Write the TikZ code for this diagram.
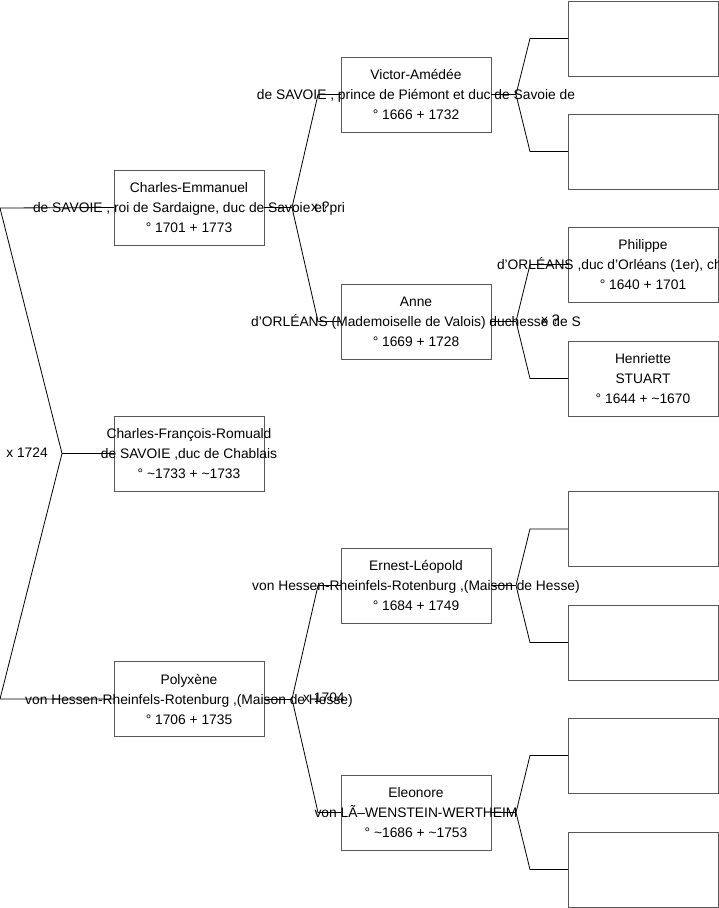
\documentclass[tikz,border=0pt]{standalone}
\usepackage{fontspec}
\setmainfont{Liberation Sans}
\begin{document}
\begin{tikzpicture}[x=1pt,y=-1pt,
  box/.style={draw=black!65, line width=1pt, minimum width=150pt, minimum height=75pt, inner sep=0pt, outer sep=0pt},
  txt/.style={font=\fontsize{13.8}{20}\selectfont, align=center, inner sep=0pt},
  lbl/.style={font=\fontsize{13.8}{16}\selectfont, inner sep=0pt},
  lk/.style={draw=black, line width=0.8pt}]
\useasboundingbox (0,0) rectangle (719,908);
% column 1
\node[box] (ce) at (189,207.5) {};
\node[box] (cf) at (189,453.5) {};
\node[box] (po) at (189,699) {};
% column 2
\node[box] (va) at (416,94.5) {};
\node[box] (an) at (416,321.5) {};
\node[box] (el) at (416,585.5) {};
\node[box] (eo) at (416,812.5) {};
% column 3
\node[box] (g1) at (643,38.5) {};
\node[box] (g2) at (643,151.5) {};
\node[box] (ph) at (643,264.5) {};
\node[box] (he) at (643,378.5) {};
\node[box] (g5) at (643,529) {};
\node[box] (g6) at (643,642.5) {};
\node[box] (g7) at (643,755.5) {};
\node[box] (g8) at (643,869.5) {};
% texts
\node[txt] at (ce) {Charles-Emmanuel\\de SAVOIE , roi de Sardaigne, duc de Savoie et pri\\° 1701 + 1773};
\node[txt] at (cf) {Charles-François-Romuald\\de SAVOIE ,duc de Chablais\\° \textasciitilde1733 + \textasciitilde1733};
\node[txt] at (po) {Polyxène\\von Hessen-Rheinfels-Rotenburg ,(Maison de Hesse)\\° 1706 + 1735};
\node[txt] at (va) {Victor-Amédée\\de SAVOIE , prince de Piémont et duc de Savoie de\\° 1666 + 1732};
\node[txt] at (an) {Anne\\d'ORLÉANS  (Mademoiselle de Valois) duchesse de S\\° 1669 + 1728};
\node[txt] at (el) {Ernest-Léopold\\von Hessen-Rheinfels-Rotenburg ,(Maison de Hesse)\\° 1684 + 1749};
\node[txt] at (eo) {Eleonore\\von LÃ–WENSTEIN-WERTHEIM\\° \textasciitilde1686 + \textasciitilde1753};
\node[txt] at (ph) {Philippe\\\makebox[292pt][l]{d'ORLÉANS ,duc d'Orléans (1er), che}\\° 1640 + 1701};
\node[txt] at (he) {Henriette\\STUART\\° 1644 + \textasciitilde1670};
% marriage labels
\node[lbl] (m0) at (27,453) {x 1724};
\node[lbl, anchor=west] (m1) at (311,207) {x ?};
\node[lbl, anchor=west] (m2) at (541,320) {x ?};
\node[lbl, anchor=west] (m3) at (303,698) {x 1704};
% coordinates
\coordinate (a0) at (0,208);
\coordinate (a1) at (62,453.5);
\coordinate (a2) at (0,699);
\coordinate (b1) at (292,207.5);
\coordinate (b1t) at (318,94.5);
\coordinate (b1b) at (318,321.5);
\coordinate (b2) at (292,699);
\coordinate (b2t) at (318,585.5);
\coordinate (b2b) at (318,812.5);
\coordinate (c1) at (516,94.5);
\coordinate (c1t) at (530,38.5);
\coordinate (c1b) at (530,151.5);
\coordinate (c2) at (516,321.5);
\coordinate (c2t) at (530,264.5);
\coordinate (c2b) at (530,378.5);
\coordinate (c3) at (516,585.5);
\coordinate (c3t) at (530,529);
\coordinate (c3b) at (530,642.5);
\coordinate (c4) at (516,812.5);
\coordinate (c4t) at (530,755.5);
\coordinate (c4b) at (530,869.5);
% connectors
\draw[lk] (ce.west) -- (a0) -- (a1) -- (a2) -- (po.west);
\draw[lk] (a1) -- (cf.west);
\draw[lk] (ce.east) -- (b1); \draw[lk] (va.west) -- (b1t) -- (b1) -- (b1b) -- (an.west);
\draw[lk] (po.east) -- (b2); \draw[lk] (el.west) -- (b2t) -- (b2) -- (b2b) -- (eo.west);
\draw[lk] (va.east) -- (c1); \draw[lk] (g1.west) -- (c1t) -- (c1) -- (c1b) -- (g2.west);
\draw[lk] (an.east) -- (c2); \draw[lk] (ph.west) -- (c2t) -- (c2) -- (c2b) -- (he.west);
\draw[lk] (el.east) -- (c3); \draw[lk] (g5.west) -- (c3t) -- (c3) -- (c3b) -- (g6.west);
\draw[lk] (eo.east) -- (c4); \draw[lk] (g7.west) -- (c4t) -- (c4) -- (c4b) -- (g8.west);
\end{tikzpicture}
\end{document}
